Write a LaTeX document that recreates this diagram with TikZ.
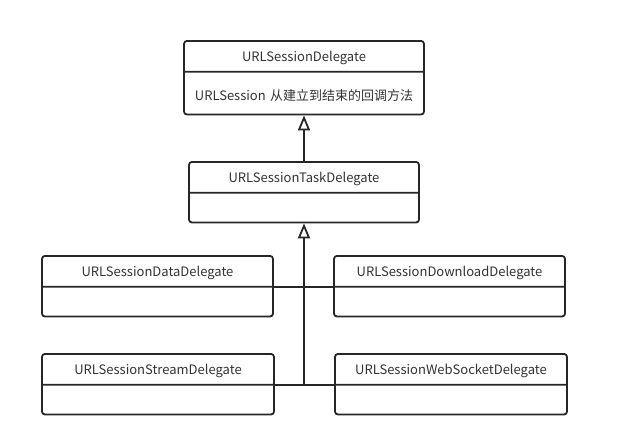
\documentclass[tikz,border=0pt]{standalone}
\usepackage{fontspec}
\setmainfont{Noto Sans CJK SC}
\usepackage{tikz}
\usetikzlibrary{arrows.meta, positioning, shapes.multipart}

\newcommand{\headrule}{\rule[-9pt]{0pt}{29pt}}
\newcommand{\bodyrule}{\rule[-13pt]{0pt}{41pt}}
\newcommand{\emptyrule}{\rule[-14pt]{0pt}{28pt}}

\begin{document}
\begin{tikzpicture} [x=1pt, y=-1pt, line width=1.8pt,
   classbox/.style = {rectangle split, rectangle split parts=2, draw=black!85,
      rounded corners=3pt, inner xsep=0pt, inner ysep=0pt, text width=#1,
      align=center, anchor=north, font=\fontsize{13}{15}\selectfont, text=black!80},
   inherits/.style = {draw=black!85, -{Triangle[open, length=15pt, width=12pt]}}]
   \useasboundingbox (0,0) rectangle (644,437);

   \node (top)[classbox=240pt] at (304,40)
      {\headrule URLSessionDelegate \nodepart{two} \bodyrule URLSession 从建立到结束的回调方法};
   \node (task)[classbox=230pt] at (304,161)
      {\headrule URLSessionTaskDelegate \nodepart{two} \emptyrule};
   \node (data)[classbox=231pt] at (157.5,255)
      {\headrule URLSessionDataDelegate \nodepart{two} \emptyrule};
   \node (download)[classbox=231pt] at (449.5,255)
      {\headrule URLSessionDownloadDelegate \nodepart{two} \emptyrule};
   \node (stream)[classbox=232pt] at (158,353)
      {\headrule URLSessionStreamDelegate \nodepart{two} \emptyrule};
   \node (websocket)[classbox=232pt] at (451,353)
      {\headrule URLSessionWebSocketDelegate \nodepart{two} \emptyrule};

   \coordinate (hub) at (task.south |- stream.text split east);

   \draw[inherits] (task) -- (top.south);
   \draw[inherits] (hub) -- (task.south);
   \draw[draw=black!85] (data.text split east) -- (download.text split west);
   \draw[draw=black!85] (stream.text split east) -- (websocket.text split west);
\end{tikzpicture}
\end{document}
